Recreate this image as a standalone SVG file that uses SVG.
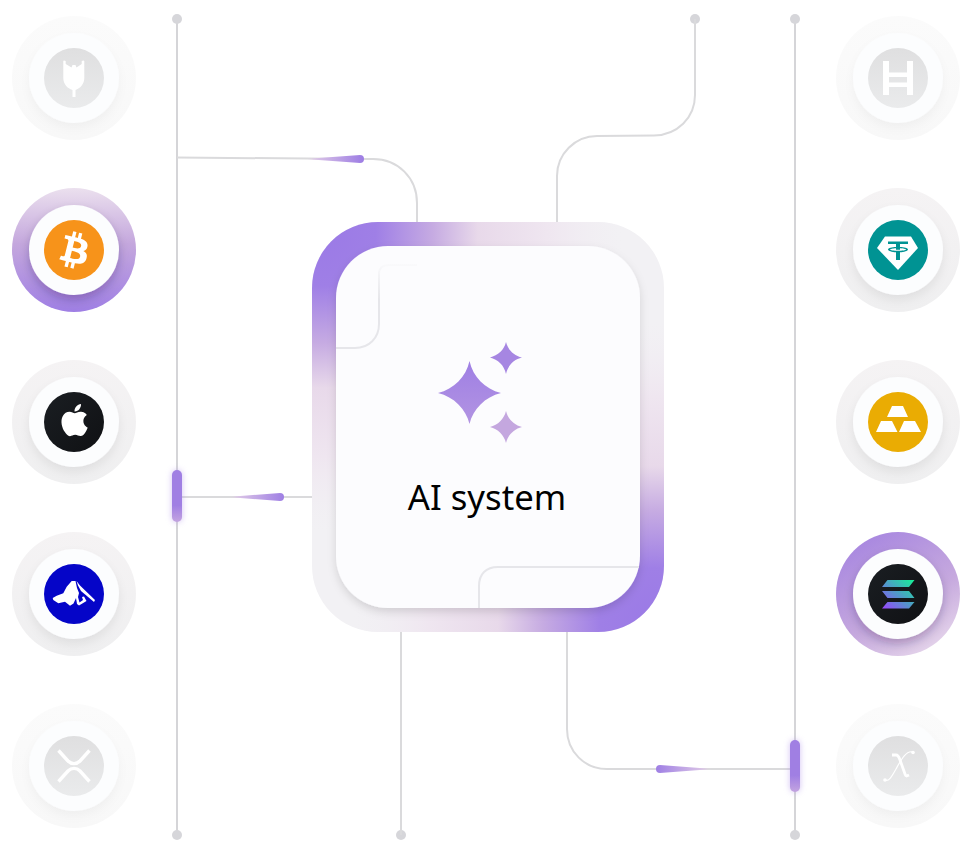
<svg xmlns="http://www.w3.org/2000/svg" width="970" height="852" viewBox="0 0 970 852">
<style>
.inner{fill:#fcfdfe;filter:url(#sh)}
.innerc{fill:#fcfdfe;filter:url(#shc)}
.innerm{fill:#fcfdfe;filter:url(#shm)}
.plain{fill:url(#ringN)}
.mutedring{fill:url(#ringM)}
.mutedicon{fill:url(#iconM)}
.wire{fill:none;stroke:#dadadc;stroke-width:2}
.rail{fill:none;stroke:#d5d5d8;stroke-width:2}
.dot{fill:#d6d6da}
.glyph{fill:#fff}
.label{font-family:"Noto Sans","Open Sans",sans-serif;font-size:34.700px;fill:#000}
</style>
<defs>
<filter id="sh" x="-30%" y="-30%" width="160%" height="170%"><feDropShadow dx="0" dy="5" stdDeviation="5" flood-color="#000" flood-opacity=".07"/></filter>
<filter id="shc" x="-30%" y="-30%" width="160%" height="170%"><feDropShadow dx="0" dy="5" stdDeviation="5" flood-color="#201040" flood-opacity=".24"/></filter>
<filter id="shm" x="-30%" y="-30%" width="160%" height="170%"><feDropShadow dx="0" dy="5" stdDeviation="5" flood-color="#000" flood-opacity=".035"/></filter>
<filter id="card" x="-10%" y="-10%" width="120%" height="120%"><feDropShadow dx="0" dy="4" stdDeviation="4" flood-color="#000" flood-opacity=".13"/></filter>
<filter id="glow" x="-200%" y="-50%" width="500%" height="200%"><feGaussianBlur stdDeviation="3"/></filter>
<linearGradient id="ringN" x1="0" y1="0" x2="0" y2="1"><stop offset="0" stop-color="#f5f3f4"/><stop offset="1" stop-color="#efeff0"/></linearGradient>
<linearGradient id="ringM" x1="0" y1="0" x2="0" y2="1"><stop offset="0" stop-color="#fbfbfb"/><stop offset="1" stop-color="#f8f8f8"/></linearGradient>
<linearGradient id="iconM" x1="0" y1="0" x2="0" y2="1"><stop offset="0" stop-color="#dfdfe0"/><stop offset="1" stop-color="#eaebec"/></linearGradient>
<linearGradient id="ringB" x1="0" y1="0" x2="0" y2="1"><stop offset="0" stop-color="#ebe0ee"/><stop offset=".45" stop-color="#c4a7dd"/><stop offset="1" stop-color="#9f7fe4"/></linearGradient>
<linearGradient id="ringS" x1=".2" y1="0" x2=".8" y2="1"><stop offset="0" stop-color="#a685e0"/><stop offset=".6" stop-color="#c6a9de"/><stop offset="1" stop-color="#e8d9ec"/></linearGradient>
<radialGradient id="glowTL" gradientUnits="userSpaceOnUse" cx="322" cy="232" r="300"><stop offset="0" stop-color="#9b7ae6"/><stop offset=".18" stop-color="#9f7fe6"/><stop offset=".37" stop-color="#c6abe2"/><stop offset=".52" stop-color="#e8d9ea"/><stop offset=".75" stop-color="#efe6f0"/><stop offset="1" stop-color="#f1edf3" stop-opacity="0"/></radialGradient>
<radialGradient id="glowBR" gradientUnits="userSpaceOnUse" cx="654" cy="622" r="300"><stop offset="0" stop-color="#9b7ae6"/><stop offset=".18" stop-color="#9f7fe6"/><stop offset=".37" stop-color="#c6abe2"/><stop offset=".52" stop-color="#e8d9ea"/><stop offset=".75" stop-color="#efe6f0"/><stop offset="1" stop-color="#f1edf3" stop-opacity="0"/></radialGradient>
<linearGradient id="starB" gradientUnits="userSpaceOnUse" x1="0" y1="361" x2="0" y2="424"><stop offset="0" stop-color="#9f7fe4"/><stop offset="1" stop-color="#b294e2"/></linearGradient>
<linearGradient id="c1" gradientUnits="userSpaceOnUse" x1="305" y1="0" x2="362" y2="0"><stop offset="0" stop-color="#e8d8ea" stop-opacity="0"/><stop offset=".15" stop-color="#dcc6e6"/><stop offset="1" stop-color="#9f7fe4"/></linearGradient>
<linearGradient id="c2" gradientUnits="userSpaceOnUse" x1="228" y1="0" x2="284" y2="0"><stop offset="0" stop-color="#e8d8ea" stop-opacity="0"/><stop offset=".15" stop-color="#dcc6e6"/><stop offset="1" stop-color="#9f7fe4"/></linearGradient>
<linearGradient id="c3" gradientUnits="userSpaceOnUse" x1="713" y1="0" x2="656" y2="0"><stop offset="0" stop-color="#e8d8ea" stop-opacity="0"/><stop offset=".15" stop-color="#dcc6e6"/><stop offset="1" stop-color="#9f7fe4"/></linearGradient>
<linearGradient id="pill" x1="0" y1="0" x2="0" y2="1"><stop offset="0" stop-color="#a07fe3"/><stop offset=".68" stop-color="#a07fe3"/><stop offset="1" stop-color="#c3a4e0"/></linearGradient>
<linearGradient id="fadeL" gradientUnits="userSpaceOnUse" x1="0" y1="262" x2="0" y2="300"><stop offset="0" stop-color="#e6e6ea" stop-opacity=".05"/><stop offset="1" stop-color="#e6e6ea"/></linearGradient>
<linearGradient id="sol" gradientUnits="userSpaceOnUse" x1="884" y1="610" x2="912" y2="578"><stop offset="0" stop-color="#9945ff"/><stop offset=".5" stop-color="#4f9ac8"/><stop offset="1" stop-color="#14f195"/></linearGradient>
<linearGradient id="darkI" x1="0" y1="0" x2="1" y2="1"><stop offset="0" stop-color="#1a1e22"/><stop offset="1" stop-color="#101114"/></linearGradient>
</defs>
<rect width="970" height="852" fill="#fff"/>
<g id="connectors">
<path class="rail" d="M177 19V835"/>
<path class="rail" d="M795 19V835"/>
<circle class="dot" cx="177" cy="19" r="5"/>
<circle class="dot" cx="177" cy="835" r="5"/>
<circle class="dot" cx="795" cy="19" r="5"/>
<circle class="dot" cx="795" cy="835" r="5"/>
<circle class="dot" cx="695" cy="19" r="5"/>
<circle class="dot" cx="401" cy="835" r="5"/>
<path class="wire" d="M177 157.500L362 159H373C398 159 417 178 417 203V224"/>
<path class="wire" d="M695 19V95C695 118 677 135 654 135.500L597 136C575 136 557 154 557 176V224"/>
<path class="wire" d="M177 497H314"/>
<path class="wire" d="M401 630V835"/>
<path class="wire" d="M567 630V729C567 752 585 769 607 769H795"/>
<path d="M305 159L360 155A4 4 0 0 1 360 163Z" fill="url(#c1)"/>
<path d="M228 497L280 493A4 4 0 0 1 280 501Z" fill="url(#c2)"/>
<path d="M713 769L660 765A4 4 0 0 0 660 773Z" fill="url(#c3)"/>
<rect x="172" y="470" width="10" height="52" rx="5" fill="#a583e6" filter="url(#glow)" opacity=".5"/>
<rect x="172" y="470" width="10" height="52" rx="5" fill="url(#pill)"/>
<rect x="790" y="740" width="10" height="52" rx="5" fill="#a583e6" filter="url(#glow)" opacity=".5"/>
<rect x="790" y="740" width="10" height="52" rx="5" fill="url(#pill)"/>
</g>
<g id="ai-system">
<rect x="312" y="222" width="352" height="410" rx="66" fill="#f2f1f4"/>
<rect x="312" y="222" width="352" height="410" rx="66" fill="url(#glowTL)"/>
<rect x="312" y="222" width="352" height="410" rx="66" fill="url(#glowBR)"/>
<rect x="336" y="246" width="304" height="362" rx="52" fill="#fcfcfe" filter="url(#card)"/>
<path d="M336 348H355C369 348 379 338 379 324V274C379 268 383 265 389 265H417" fill="none" stroke="url(#fadeL)" stroke-width="2"/>
<path d="M479 608V586C479 574 486 567 498 567H639" fill="none" stroke="#e6e6ea" stroke-width="2"/>
<path d="M469.500 361C473 377 485 389 501 393C485 397 473 409 469.500 424C466 409 454 397 438 393C454 389 466 377 469.500 361Z" fill="url(#starB)"/>
<path d="M506 342C508 350 514 355.500 522 357.500C514 359.500 508 365 506 374C504 365 498 359.500 490 357.500C498 355.500 504 350 506 342Z" fill="#a686e2"/>
<path d="M506 411C508 419 514 425 522 427C514 429 508 435 506 443C504 435 498 429 490 427C498 425 504 419 506 411Z" fill="#c4a7df"/>
<text class="label" x="487" y="510" text-anchor="middle">AI system</text>
</g>
<g id="node-plug">
<circle class="mutedring" cx="74" cy="78" r="62"/><circle class="innerm" cx="74" cy="78" r="45"/><circle class="mutedicon" cx="74" cy="78" r="30"/>
<path class="glyph" d="M64 60.500L65.700 61V64L71.500 67.500L72.500 65H75.500L76.500 67.500L81.700 64V61L83.500 60.500L84.300 61V78C84.300 84 80 88.500 75.500 90V97H72.500V90C67.500 88.500 63.300 84 63.300 78V61Z"/>
</g>
<g id="node-bitcoin">
<circle cx="74" cy="250" r="62" fill="url(#ringB)"/><circle class="innerc" cx="74" cy="250" r="45"/><circle cx="74" cy="250" r="30" fill="#f7931a"/>
<path class="glyph" transform="translate(44 220) scale(1.875)" d="M23.189 14.02c.314-2.096-1.283-3.223-3.465-3.975l.708-2.84-1.728-.43-.69 2.765c-.454-.114-.92-.22-1.385-.326l.695-2.783L15.596 6l-.708 2.839c-.376-.086-.746-.17-1.104-.26l.002-.009-2.384-.595-.46 1.846s1.283.294 1.256.312c.7.175.826.638.805 1.006l-.806 3.235c.048.012.11.03.18.057l-.183-.045-1.13 4.532c-.086.212-.303.531-.793.41.018.025-1.256-.313-1.256-.313l-.858 1.978 2.25.561c.418.105.828.215 1.231.318l-.715 2.872 1.727.43.708-2.84c.472.127.93.245 1.378.357l-.706 2.828 1.728.43.715-2.866c2.948.558 5.164.333 6.097-2.333.752-2.146-.037-3.385-1.588-4.192 1.13-.26 1.98-1.003 2.207-2.538zm-3.95 5.538c-.533 2.147-4.148.986-5.32.695l.95-3.805c1.172.293 4.929.872 4.37 3.11zm.535-5.569c-.487 1.953-3.495.96-4.47.717l.86-3.45c.975.243 4.118.696 3.61 2.733z"/>
</g>
<g id="node-apple">
<circle class="plain" cx="74" cy="422" r="62"/><circle class="inner" cx="74" cy="422" r="45"/><circle cx="74" cy="422" r="30" fill="url(#darkI)"/>
<path class="glyph" transform="translate(58.500 404) scale(1.34)" d="M12.152 6.896c-.948 0-2.415-1.078-3.96-1.04-2.04.027-3.91 1.183-4.961 3.014-2.117 3.675-.546 9.103 1.519 12.09 1.013 1.454 2.208 3.09 3.792 3.039 1.52-.065 2.09-.987 3.935-.987 1.831 0 2.35.987 3.96.948 1.637-.026 2.676-1.48 3.676-2.948 1.156-1.688 1.636-3.325 1.662-3.415-.039-.013-3.182-1.221-3.22-4.857-.026-3.04 2.48-4.494 2.597-4.559-1.429-2.09-3.623-2.324-4.39-2.376-2-.156-3.675 1.09-4.61 1.09zM15.53 3.83c.843-1.012 1.4-2.427 1.245-3.83-1.207.052-2.662.805-3.532 1.818-.78.896-1.454 2.338-1.273 3.714 1.338.104 2.715-.688 3.559-1.701"/>
</g>
<g id="node-mountain">
<circle class="plain" cx="74" cy="594" r="62"/><circle class="inner" cx="74" cy="594" r="45"/><circle cx="74" cy="594" r="30" fill="#0505c8"/>
<path class="glyph" d="M52.700 598L56.700 595.700L63.300 593.300L66.700 586.700L71.700 581L75.500 581L77 588L79 593L78 597L79.500 602.500L83 600L82 597L84 596.500L86.500 601L79 605.500L77 604L76 598L73.500 603.500L70 605.700L65 601.700L58.300 603.300L53.300 600ZM76.500 581L80 585.500L95 600L94 602L81 591L78 585.500Z"/>
</g>
<g id="node-xrp">
<circle class="mutedring" cx="74" cy="766" r="62"/><circle class="innerm" cx="74" cy="766" r="45"/><circle class="mutedicon" cx="74" cy="766" r="30"/>
<path d="M58.500 750.500L68 761C71.500 764.500 76.500 764.500 80 761L89.500 750.500M58.500 781.500L68 771C71.500 767.500 76.500 767.500 80 771L89.500 781.500" fill="none" stroke="#fff" stroke-width="3.400"/>
</g>
<g id="node-hbar">
<circle class="mutedring" cx="898" cy="78" r="62"/><circle class="innerm" cx="898" cy="78" r="45"/><circle class="mutedicon" cx="898" cy="78" r="30"/>
<path class="glyph" d="M883 61H889V72.500H907V61H913V95H907V87H889V95H883ZM889 77V82.500H907V77Z" fill-rule="evenodd"/>
</g>
<g id="node-tether">
<circle class="plain" cx="898" cy="250" r="62"/><circle class="inner" cx="898" cy="250" r="45"/><circle cx="898" cy="250" r="30" fill="#009393"/>
<path class="glyph" d="M885 236.500H911L918 248L898 270L877 248Z"/>
<path d="M888 241.500H908V244H900V247C904 247 908 248 908 249.500C908 251 904 252 900 252.300V260H896V252.300C892 252 888 251 888 249.500C888 248 892 247 896 247V244H888ZM896 248.200C893 248.400 890 249 890 249.500C890 250.200 894 250.800 898 250.800C902 250.800 906 250.200 906 249.500C906 249 903 248.400 900 248.200V249.800H896Z" fill="#009393" fill-rule="evenodd"/>
</g>
<g id="node-gold">
<circle class="plain" cx="898" cy="422" r="62"/><circle class="inner" cx="898" cy="422" r="45"/><circle cx="898" cy="422" r="30" fill="#eaac03"/>
<path class="glyph" d="M892 406H903L908 417H887ZM881 421H892L897.500 432H876ZM904 421H915L921 432H899Z"/>
</g>
<g id="node-solana">
<circle cx="898" cy="594" r="62" fill="url(#ringS)"/><circle class="innerc" cx="898" cy="594" r="45"/><circle cx="898" cy="594" r="30" fill="url(#darkI)"/>
<path d="M887.500 580H914.500L909 587H882ZM882 591H909L914.500 598H887.500ZM887.500 602H914.500L909 608.500H882Z" fill="url(#sol)"/>
</g>
<g id="node-x">
<circle class="mutedring" cx="898" cy="766" r="62"/><circle class="innerm" cx="898" cy="766" r="45"/><circle class="mutedicon" cx="898" cy="766" r="30"/>
<path d="M885 780C889 782 892 776 896 769C901 760 906 750 913 752" fill="none" stroke="#fff" stroke-width="1.200"/>
<path d="M892 755H896C898 755 899 757 900 760L905 774C906 777 907 776 909 775" fill="none" stroke="#fff" stroke-width="2.800"/>
<circle class="glyph" cx="913" cy="752.500" r="1.800"/><circle class="glyph" cx="885" cy="780" r="1.800"/>
</g>
</svg>
